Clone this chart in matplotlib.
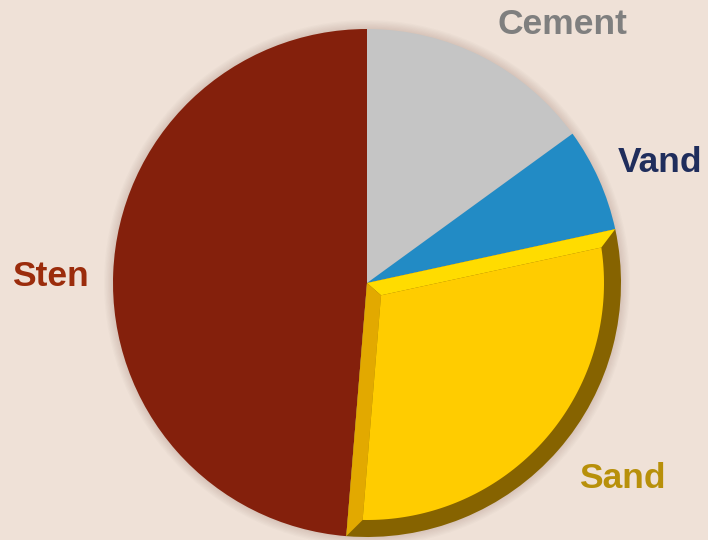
import matplotlib.pyplot as plt
import matplotlib.patches as patches
import numpy as np

# concrete mix shares (percent)
labels = ['Cement', 'Vand', 'Sand', 'Sten']
values = [15.0, 6.6, 29.7, 48.7]
colors = ['#C5C5C5', '#228BC5', '#FFCC00', '#84200C']
label_colors = ['#7F7F7F', '#1F2D5C', '#B8900A', '#9B2C0C']
label_pos = [(562, 24), (660, 163), (622, 479), (50, 276)]

W, H = 708, 540
cx, cy, R = 367, 283, 254  # pie centre / radius in pixels

fig = plt.figure(figsize=(W / 100, H / 100), dpi=100)
fig.patch.set_facecolor('#EFE1D7')
ax = fig.add_axes([0, 0, 1, 1])
ax.set_xlim(-cx / R, (W - cx) / R)
ax.set_ylim(-(H - cy) / R, cy / R)
ax.axis('off')

def px(x, y):
    return ((x - cx) / R, (cy - y) / R)

# soft shadow behind the pie
for i in range(8):
    ax.add_patch(patches.Circle((0.0, 0.0), 1.0 + 0.005 * i, color='#6B4A38',
                                alpha=0.025, lw=0, zorder=1))

# wedge angles, clockwise from 12 o'clock
fr = np.array(values) / sum(values)
ends = 90 - 360 * np.cumsum(fr)
starts = np.concatenate([[90], ends[:-1]])

for i, lab in enumerate(labels):
    if lab == 'Sand':
        continue
    ax.add_patch(patches.Wedge((0, 0), 1.0, ends[i], starts[i], color=colors[i],
                               lw=0, zorder=2))

# Sand slice drawn with a bevel
i = labels.index('Sand')
t1, t2 = np.radians(starts[i]), np.radians(ends[i])
bev = 15 / R
# face apex: intersection of both edges moved inward by bev
u1 = np.array([np.cos(t1), np.sin(t1)])
u2 = np.array([np.cos(t2), np.sin(t2)])
n1 = np.array([np.sin(t1), -np.cos(t1)])   # inward normal of top edge
n2 = np.array([-np.sin(t2), np.cos(t2)])   # inward normal of left edge
apex = np.linalg.solve(np.array([n1, n2]), [bev, bev])
rf = 1.0 - 17 / R

def arc_point(p0, u, r):
    # point where the line p0 + s*u meets circle radius r
    b = p0 @ u
    s = -b + np.sqrt(b * b - (p0 @ p0 - r * r))
    return p0 + s * u

f1 = arc_point(apex, u1, rf)
f2 = arc_point(apex, u2, rf)

ax.add_patch(patches.Wedge((0, 0), 1.0, ends[i], starts[i], color='#866300',
                           lw=0, zorder=2))
ax.add_patch(patches.Polygon([(0, 0), u1, f1, apex], closed=True, color='#FFDC00',
                             lw=0, zorder=3))
ax.add_patch(patches.Polygon([(0, 0), apex, f2, u2], closed=True, color='#E2A900',
                             lw=0, zorder=3))
a1 = np.degrees(np.arctan2(f1[1], f1[0]))
a2 = np.degrees(np.arctan2(f2[1], f2[0]))
arc = np.radians(np.linspace(a1, a2, 100))
face = [tuple(apex)] + list(zip(rf * np.cos(arc), rf * np.sin(arc)))
ax.add_patch(patches.Polygon(face, closed=True, color=colors[i], lw=0, zorder=4))

for lab, col, (x, y) in zip(labels, label_colors, label_pos):
    ax.text(*px(x, y), lab, color=col, fontsize=25.5, fontweight='bold',
            family=['Liberation Sans', 'DejaVu Sans'], ha='center', va='center',
            zorder=5)

fig.savefig('out.png', dpi=100, facecolor=fig.get_facecolor())
